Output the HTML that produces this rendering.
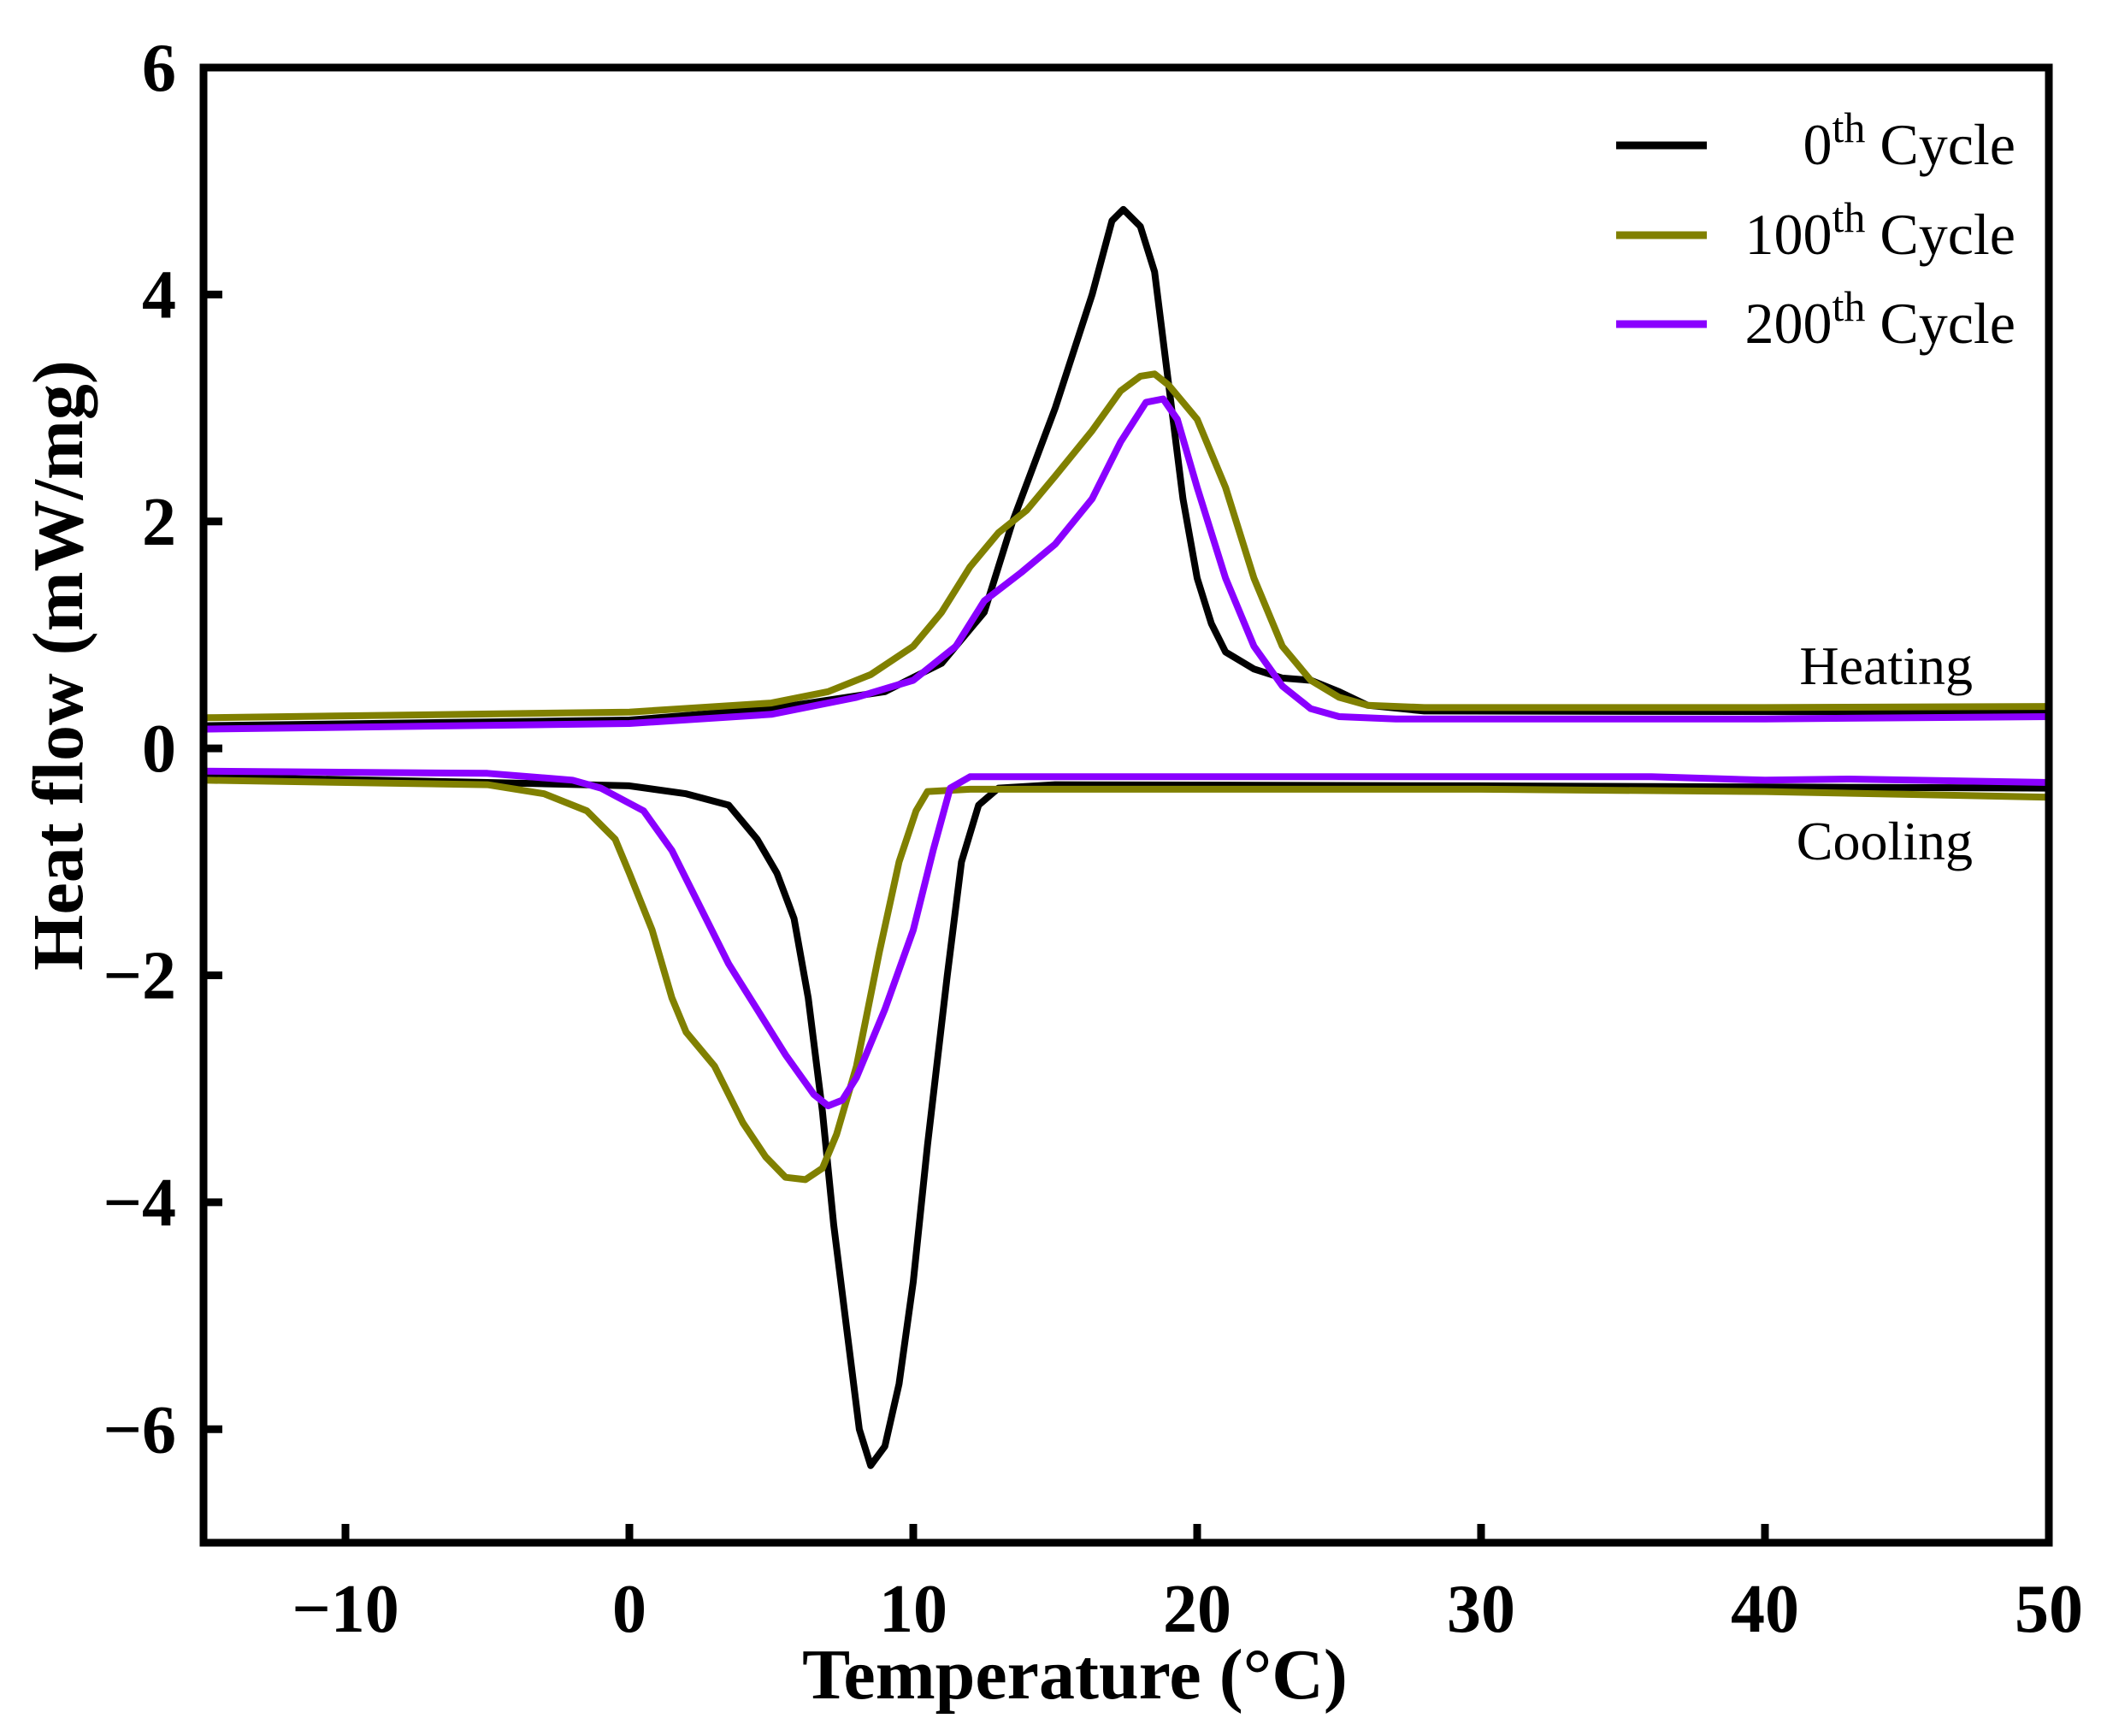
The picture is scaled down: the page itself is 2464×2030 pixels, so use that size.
<!DOCTYPE html>
<html><head><meta charset="utf-8"><style>
html,body{margin:0;padding:0;background:#fff}
svg{display:block}
text{font-family:"Liberation Serif",serif}
</style></head><body>
<svg id="chart" width="2464" height="2030" xmlns="http://www.w3.org/2000/svg">
<g id="series"></g>
<rect x="238" y="79" width="2158" height="1725" fill="none" stroke="#000" stroke-width="9"/>
<g id="ticks"></g>
<text x="1257" y="1986" font-size="84" font-weight="bold" text-anchor="middle">Temperature (°C)</text>
<text transform="translate(96,778) rotate(-90)" font-size="84" font-weight="bold" text-anchor="middle">Heat flow (mW/mg)</text>
<text x="2307" y="800" font-size="64" text-anchor="end">Heating</text>
<text x="2307" y="1005" font-size="64" text-anchor="end">Cooling</text>
<g>
<line x1="1890" y1="170" x2="1996" y2="170" stroke="#000" stroke-width="9"/>
<text x="2357" y="192" font-size="68" text-anchor="end">0<tspan dy="-26" font-size="50">th</tspan><tspan dy="26"> Cycle</tspan></text>
<line x1="1890" y1="275" x2="1996" y2="275" stroke="#808000" stroke-width="9"/>
<text x="2357" y="297" font-size="68" text-anchor="end">100<tspan dy="-26" font-size="50">th</tspan><tspan dy="26"> Cycle</tspan></text>
<line x1="1890" y1="379" x2="1996" y2="379" stroke="#8a00ff" stroke-width="9"/>
<text x="2357" y="401" font-size="68" text-anchor="end">200<tspan dy="-26" font-size="50">th</tspan><tspan dy="26"> Cycle</tspan></text>
</g>
</svg>
<script>
const xTicks = [-10,0,10,20,30,40,50];
const yTicks = [6,4,2,0,-2,-4,-6];
const heat0X = [-15,0,5,9,11,12.5,13.5,15,16.3,17,17.4,18,18.5,19,19.5,20,20.5,21,22,23,24,25,26,28,50];
const heat0Y = [0.2,0.25,0.35,0.5,0.75,1.2,2.0,3.0,4.0,4.65,4.75,4.6,4.2,3.2,2.2,1.5,1.1,0.85,0.7,0.62,0.6,0.5,0.38,0.33,0.32];
const heat100X = [-15,0,5,7,8.5,10,11,12,13,14,15,16.3,17.3,18,18.5,19,20,21,22,23,24,25,26,28,40,50];
const heat100Y = [0.27,0.32,0.4,0.5,0.65,0.9,1.2,1.6,1.9,2.1,2.4,2.8,3.15,3.28,3.3,3.2,2.9,2.3,1.5,0.9,0.6,0.45,0.38,0.36,0.36,0.37];
const heat200X = [-15,0,5,8,10,11.5,12.5,13.8,15,16.3,17.3,18.2,18.8,19.3,20,21,22,23,24,25,27,40,50];
const heat200Y = [0.17,0.22,0.3,0.45,0.6,0.9,1.3,1.55,1.8,2.2,2.7,3.05,3.08,2.9,2.3,1.5,0.9,0.55,0.35,0.28,0.26,0.26,0.28];
const cool0X = [-15,-5,0,2,3.5,4.5,5.2,5.8,6.3,6.8,7.2,7.7,8.1,8.5,9,9.5,10,10.5,11.2,11.7,12.3,13,15,30,50];
const cool0Y = [-0.25,-0.3,-0.33,-0.4,-0.5,-0.8,-1.1,-1.5,-2.2,-3.2,-4.2,-5.2,-6.0,-6.32,-6.15,-5.6,-4.7,-3.5,-2.0,-1.0,-0.5,-0.35,-0.32,-0.33,-0.35];
const cool100X = [-15,-5,-3,-1.5,-0.5,0,0.8,1.5,2,3,4,4.8,5.5,6.2,6.8,7.3,8,8.8,9.5,10.1,10.5,12,20,30,40,50];
const cool100Y = [-0.28,-0.32,-0.4,-0.55,-0.8,-1.1,-1.6,-2.2,-2.5,-2.8,-3.3,-3.6,-3.78,-3.8,-3.7,-3.4,-2.8,-1.8,-1.0,-0.55,-0.38,-0.36,-0.36,-0.36,-0.38,-0.43];
const cool200X = [-15,-5,-2,-1,0.5,1.5,2.5,3.5,4.5,5.5,6.5,7,7.5,8,9,10,10.7,11.3,12,30,36,40,43,50];
const cool200Y = [-0.2,-0.22,-0.28,-0.35,-0.55,-0.9,-1.4,-1.9,-2.3,-2.7,-3.05,-3.15,-3.1,-2.9,-2.3,-1.6,-0.9,-0.35,-0.25,-0.25,-0.25,-0.28,-0.27,-0.3];

const NS='http://www.w3.org/2000/svg';
const X0=238,X1=2396,Y0=1804,Y1=79,XMIN=-15,XMAX=50,YMIN=-7,YMAX=6;
function sx(v){return X0+(v-XMIN)/(XMAX-XMIN)*(X1-X0);}
function sy(v){return Y0-(v-YMIN)/(YMAX-YMIN)*(Y0-Y1);}
const sg=document.getElementById('series');
function drawLine(xs,ys,color,name){
  const p=document.createElementNS(NS,'polyline');
  p.setAttribute('points',xs.map((x,i)=>sx(x).toFixed(1)+','+sy(ys[i]).toFixed(1)).join(' '));
  p.setAttribute('fill','none');p.setAttribute('stroke',color);
  p.setAttribute('stroke-width','8');p.setAttribute('stroke-linejoin','round');
  
  
  sg.appendChild(p);
}
drawLine(heat0X,heat0Y,'#000','heating-0th-cycle');
drawLine(cool0X,cool0Y,'#000','cooling-0th-cycle');
drawLine(heat100X,heat100Y,'#808000','heating-100th-cycle');
drawLine(cool100X,cool100Y,'#808000','cooling-100th-cycle');
drawLine(heat200X,heat200Y,'#8a00ff','heating-200th-cycle');
drawLine(cool200X,cool200Y,'#8a00ff','cooling-200th-cycle');
const tg=document.getElementById('ticks');
function fmt(v){return v<0?'\u2212'+Math.abs(v):String(v);}
xTicks.forEach(v=>{
  const x=sx(v);
  if(v<XMAX){const l=document.createElementNS(NS,'line');
  l.setAttribute('x1',x);l.setAttribute('x2',x);l.setAttribute('y1',Y0);l.setAttribute('y2',Y0-22);
  l.setAttribute('stroke','#000');l.setAttribute('stroke-width','9');
  
  
  tg.appendChild(l);}
  const t=document.createElementNS(NS,'text');
  t.setAttribute('x',x);t.setAttribute('y',1908);t.setAttribute('font-size','80');
  t.setAttribute('font-weight','bold');t.setAttribute('text-anchor','middle');
  t.textContent=fmt(v);
  
  
  tg.appendChild(t);
});
yTicks.forEach(v=>{
  const y=sy(v);
  if(v<YMAX){const l=document.createElementNS(NS,'line');
  l.setAttribute('x1',X0);l.setAttribute('x2',X0+22);l.setAttribute('y1',y);l.setAttribute('y2',y);
  l.setAttribute('stroke','#000');l.setAttribute('stroke-width','9');
  
  
  tg.appendChild(l);}
  const t=document.createElementNS(NS,'text');
  t.setAttribute('x',206);t.setAttribute('y',y+27);t.setAttribute('font-size','80');
  t.setAttribute('font-weight','bold');t.setAttribute('text-anchor','end');
  t.textContent=fmt(v);
  
  
  tg.appendChild(t);
});
</script>
</body></html>
